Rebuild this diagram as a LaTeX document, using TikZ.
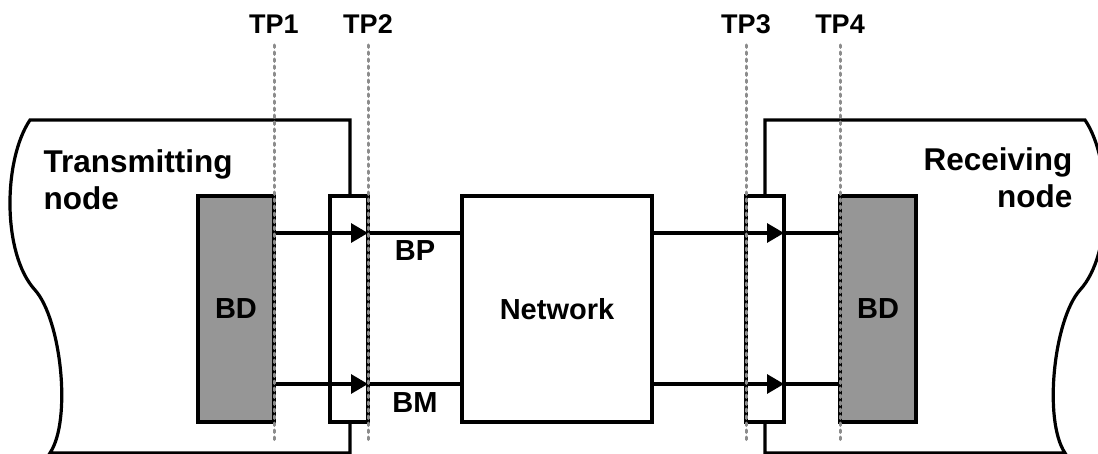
\documentclass[tikz,border=0pt]{standalone}
\usepackage{fontspec}
\setmainfont{Liberation Sans}
\usetikzlibrary{arrows.meta,positioning}
\definecolor{bdgray}{RGB}{150,150,150}
\definecolor{tpgray}{RGB}{140,140,140}

\begin{document}
\begin{tikzpicture}[x=1pt, y=-1pt, >={Triangle[length=17pt,width=19pt]}, line width=3.2pt,
  font=\fontsize{29}{37}\selectfont\bfseries,
  box/.style={draw, fill=white, minimum height=226pt, inner sep=0pt, outer sep=0pt},
  tplabel/.style={anchor=base, font=\fontsize{27}{32}\selectfont\bfseries},
  sidelabel/.style={inner sep=0pt, font=\fontsize{31.5}{37}\selectfont\bfseries},
  tpline/.style={tpgray, line width=3pt, line cap=round, dash pattern=on 2.5pt off 4.5pt}]
  \useasboundingbox (0,0) rectangle (1098,454);
  % node outlines with wavy cut edges
  \draw (350,453) -- (350,120) -- (30,120)
    .. controls (3,160) and (2,254) .. (35,290)
    .. controls (61,319) and (72,420) .. (50,453) -- cycle;
  \draw (765,453) -- (765,120) -- (1085,120)
    .. controls (1112,160) and (1113,254) .. (1080,290)
    .. controls (1054,319) and (1043,420) .. (1065,453) -- cycle;
  \node[sidelabel, anchor=base west, align=left] (tx) at (42,210) {Transmitting\\node};
  \node[sidelabel, anchor=base east, align=right] (rx) at (1074,208) {Receiving\\node};
  % boxes along the path
  \node[box, fill=bdgray, minimum width=76pt] (bdL) at (236,309) {BD};
  \node[box, minimum width=38pt, right=56pt of bdL] (portL) {};
  \node[box, minimum width=190pt, right=94pt of portL] (net) {Network};
  \node[box, minimum width=38pt, right=94pt of net] (portR) {};
  \node[box, fill=bdgray, minimum width=76pt, right=56pt of portR] (bdR) {BD};
  % signal lines BP and BM
  \foreach \y/\nm in {233/p, 384/m} {
    \coordinate (s\nm) at (0,\y);
    \draw[->] (bdL.east |- s\nm) -- (portL.east |- s\nm);
    \draw (portL.east |- s\nm) -- (net.west |- s\nm);
    \draw[->] (net.east |- s\nm) -- (portR.east |- s\nm);
    \draw (portR.east |- s\nm) -- (bdR.west |- s\nm);
  }
  \node[anchor=base] (bp) at (415,261) {BP};
  \node[anchor=base] (bm) at (415,412) {BM};
  % test points
  \coordinate (tptop) at (0,45);
  \coordinate (tpbot) at (0,441);
  \foreach \i/\at in {1/bdL.east, 2/portL.east, 3/portR.west, 4/bdR.west} {
    \node[tplabel] (tp\i) at (\at |- 0,34) {TP\i};
    \draw[tpline] (tp\i.base |- tptop) -- (tp\i.base |- tpbot);
  }
\end{tikzpicture}
\end{document}
